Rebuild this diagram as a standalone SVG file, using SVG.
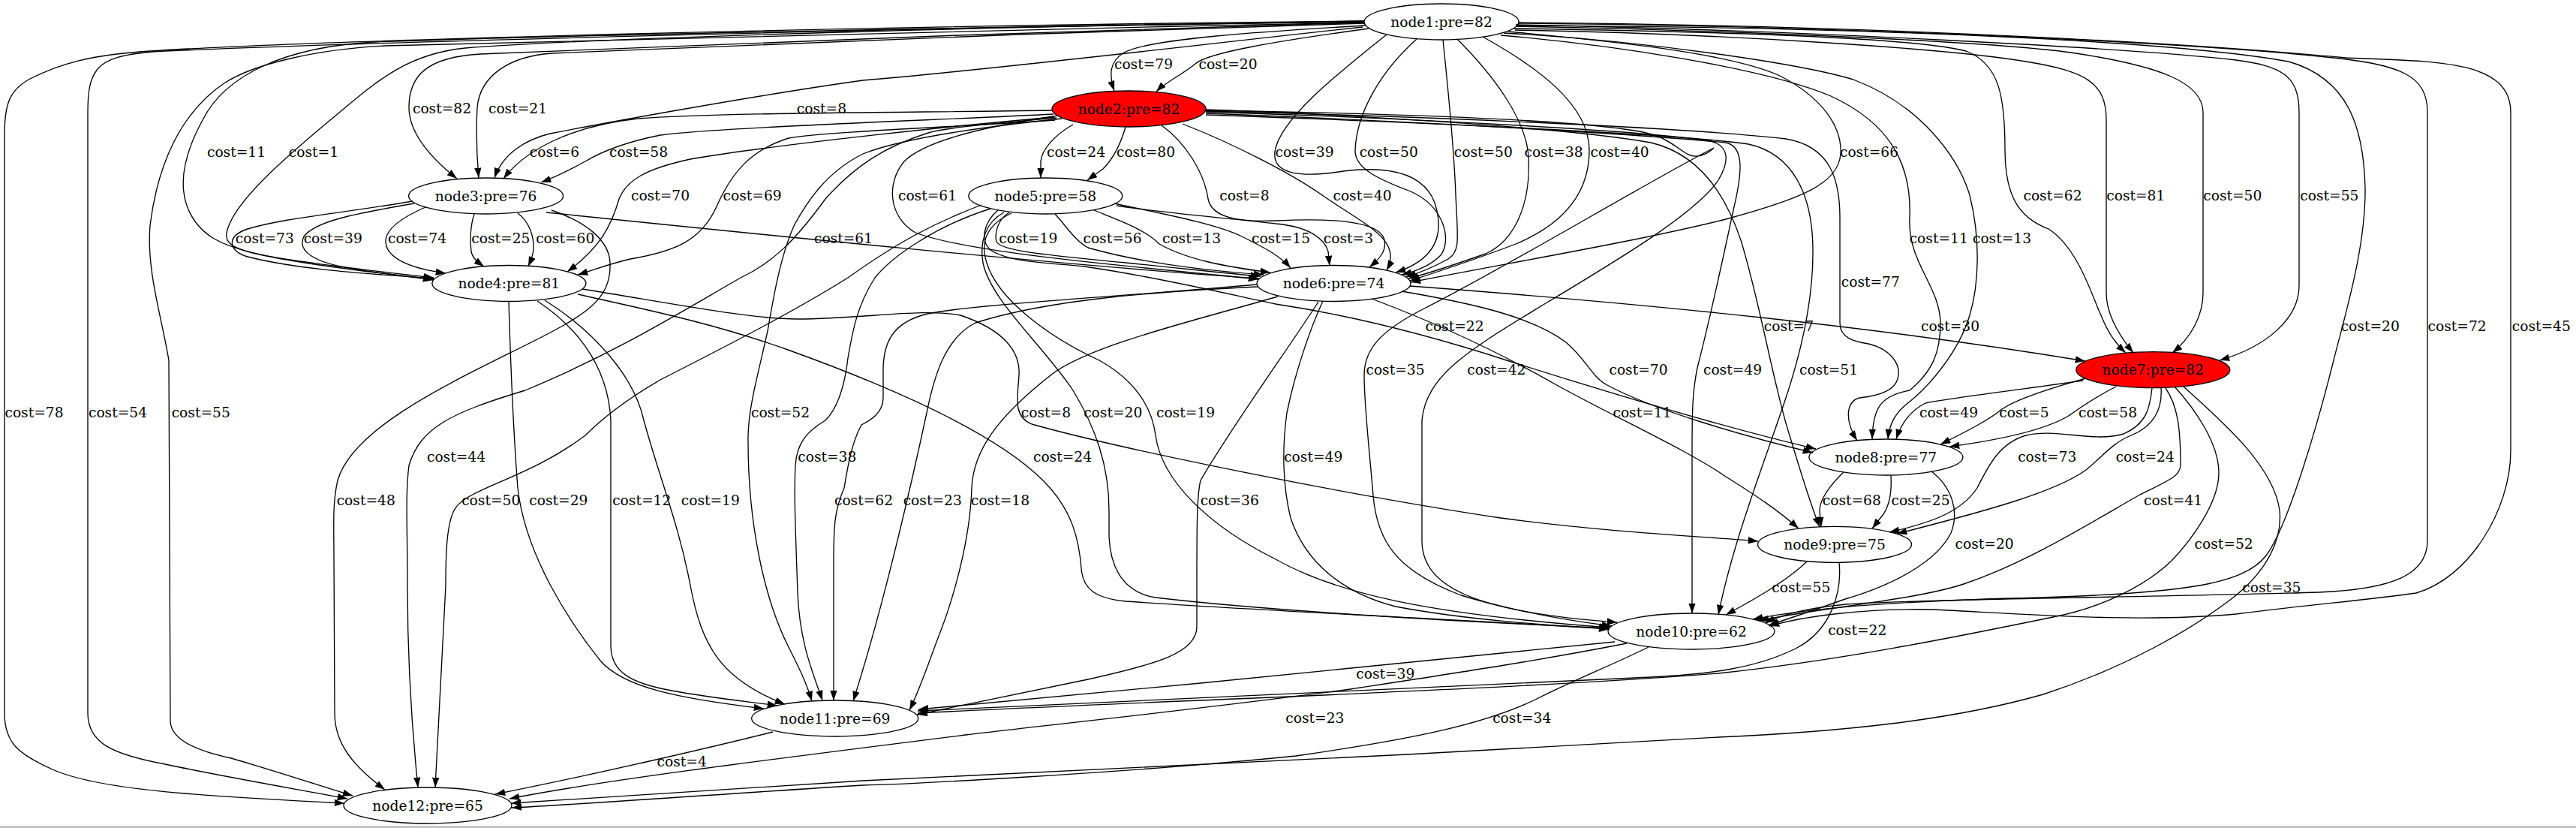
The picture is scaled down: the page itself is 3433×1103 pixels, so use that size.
<svg xmlns="http://www.w3.org/2000/svg" width="3433" height="1103" viewBox="0 0 3433 1103">
<defs>
<marker id="ah" markerUnits="userSpaceOnUse" markerWidth="14" markerHeight="9.4" viewBox="0 0 14 9.4" refX="13.3" refY="4.7" orient="auto"><path d="M0,0 L13.3,4.7 L0,9.4 z" fill="#000"/></marker>
<style>
text{font-family:"DejaVu Serif",serif;font-size:18.67px;text-anchor:middle;fill:#000}
.n ellipse{fill:none;stroke:#000;stroke-width:1.33}
.n.red ellipse{fill:#ff0000}
#edges path{fill:none;stroke:#000;stroke-width:1.33;marker-end:url(#ah)}
</style>
</defs>
<rect x="0" y="0" width="3433" height="1103" fill="#fff"/>
<rect x="0" y="1100" width="3433" height="3" fill="#c4c4c4"/>
<g id="edges">
<path id="e1-2-79" d="M1820,34 C1680,42 1530,52 1498,70 C1478,82 1478,100 1485,121"/>
<path id="e1-2-20" d="M1824,38 C1700,55 1610,70 1593,85 C1575,100 1555,108 1541,122"/>
<path id="e1-3-82" d="M1818,30 C1500,38 900,60 640,72 C570,76 545,100 545,143 C545,180 580,215 609,238"/>
<path id="e1-3-21" d="M1819,31 C1500,40 900,62 735,71 C680,75 640,100 636,143 C634,180 636,215 638,237"/>
<path id="e1-3-8" d="M1816,36 C1550,65 1300,95 1150,107 C1000,128 800,165 733,178 C700,186 670,205 659,237"/>
<path id="e1-4-11" d="M1818,28 C1400,35 800,45 500,56 C380,62 300,100 270,160 C240,215 235,260 260,295 C285,330 330,345 579,372"/>
<path id="e1-4-1" d="M1818,29 C1400,33 800,50 620,64 C540,72 500,110 440,160 C380,210 310,270 302,310 C298,335 330,342 578,370"/>
<path id="e1-12-78" d="M1818,28 C1100,35 400,55 200,68 C120,73 80,85 40,105 C12,120 6,140 6,180 L6,950 C6,990 25,1005 70,1025 C130,1052 260,1060 459,1070"/>
<path id="e1-12-54" d="M1818,29 C1100,38 400,60 220,68 C160,71 140,80 130,92 C120,105 117,120 117,150 L117,950 C117,990 150,1005 220,1018 C300,1035 400,1052 463,1064"/>
<path id="e1-12-55" d="M1819,30 C1300,40 700,55 513,61 C420,66 340,85 300,110 C240,150 210,220 200,300 C195,360 215,420 225,480 L227,960 C227,985 260,1000 308,1010 C370,1028 430,1048 470,1060"/>
<path id="e1-6-39" d="M1848,46 C1780,100 1705,160 1699,202 C1695,235 1740,236 1790,228 C1840,222 1895,225 1912,270 C1925,310 1915,345 1860,363"/>
<path id="e1-6-50a" d="M1888,52 C1840,95 1808,150 1806,200 C1805,225 1840,240 1880,255 C1925,275 1935,320 1920,340 C1905,355 1885,362 1868,366"/>
<path id="e1-6-50b" d="M1923,53 C1930,120 1938,200 1940,260 C1943,320 1946,335 1930,345 C1910,356 1890,364 1874,369"/>
<path id="e1-6-38" d="M1942,52 C1990,100 2035,160 2037,210 C2040,270 2020,320 1980,338 C1940,352 1905,364 1877,371"/>
<path id="e1-6-40" d="M1976,49 C2050,90 2118,140 2118,200 C2118,260 2080,300 2020,325 C1960,348 1910,364 1879,374"/>
<path id="e1-6-66" d="M2010,42 C2150,55 2300,70 2370,100 C2430,130 2455,170 2453,205 C2450,245 2400,265 2300,292 C2180,322 2000,352 1880,376"/>
<path id="e1-7-62" d="M2017,38 C2300,42 2550,50 2620,68 C2665,85 2672,130 2672,200 C2672,260 2690,290 2730,305 C2770,330 2790,400 2800,420 C2810,445 2820,458 2833,470"/>
<path id="e1-7-81" d="M2019,40 C2300,45 2600,65 2700,82 C2780,95 2807,110 2807,160 L2807,390 C2807,420 2825,448 2843,470"/>
<path id="e1-7-50" d="M2020,35 C2300,40 2650,55 2760,70 C2880,88 2936,110 2936,150 L2936,390 C2936,420 2920,450 2895,470"/>
<path id="e1-7-55" d="M2020,33 C2400,40 2850,65 2980,80 C3040,88 3064,100 3064,150 L3064,380 C3064,425 3020,462 2958,480"/>
<path id="e1-8-11" d="M2000,47 C2150,60 2350,90 2440,128 C2520,165 2548,220 2545,290 C2542,350 2585,380 2586,430 C2586,470 2575,495 2545,520 C2505,527 2496,545 2495,585"/>
<path id="e1-8-13" d="M2004,44 C2200,55 2400,85 2470,106 C2560,140 2610,210 2625,260 C2640,320 2637,380 2625,420 C2610,470 2570,515 2545,535 C2525,550 2518,565 2516,585"/>
<path id="e1-10-20" d="M2022,34 C2500,36 2900,55 3050,82 C3130,105 3150,170 3152,250 C3153,330 3125,420 3110,480 C3090,560 3050,700 3020,740 C2990,780 2900,790 2720,796 C2550,800 2420,808 2336,825"/>
<path id="e1-10-72" d="M2023,31 C2500,35 2950,60 3100,76 C3200,86 3235,100 3235,150 L3235,720 C3235,765 3190,785 3090,789 C2900,795 2550,798 2460,805 C2410,810 2375,818 2353,830"/>
<path id="e1-10-45" d="M2024,30 C2600,35 3000,65 3126,77 C3250,82 3346,80 3346,150 L3346,600 C3346,680 3290,770 3220,790 C3150,800 3080,805 2980,818 C2850,830 2700,818 2576,812 C2480,810 2400,822 2358,834"/>
<path id="e2-3-6" d="M1403,147 C1200,150 950,150 850,158 C760,168 700,200 671,238"/>
<path id="e2-3-58" d="M1404,152 C1250,160 950,170 880,180 C830,190 800,203 780,215 C760,226 740,236 721,243"/>
<path id="e2-4-70" d="M1405,156 C1300,165 1050,190 920,212 C860,225 835,240 825,265 C815,300 800,330 756,362"/>
<path id="e2-4-69" d="M1406,160 C1300,168 1100,175 1051,184 C1000,200 975,230 955,275 C935,320 900,335 840,345 C810,352 790,360 770,366"/>
<path id="e2-5-24" d="M1430,166 C1405,180 1388,200 1387,215 L1387,237"/>
<path id="e2-5-80" d="M1500,169 C1494,190 1485,210 1470,225 L1449,240"/>
<path id="e2-6-61" d="M1410,154 C1300,170 1230,190 1205,215 C1180,245 1185,290 1220,310 C1300,340 1550,358 1677,372"/>
<path id="e2-6-8" d="M1548,167 C1580,190 1605,230 1610,265 C1615,290 1650,296 1700,294 C1780,290 1840,295 1845,320 C1848,335 1838,345 1825,356"/>
<path id="e2-6-40" d="M1576,165 C1640,190 1720,230 1765,262 C1820,300 1870,320 1848,360"/>
<path id="e2-8-77" d="M1607,148 C1900,155 2250,170 2380,185 C2440,195 2452,240 2452,290 L2452,430 C2452,450 2470,455 2490,458 C2520,465 2532,485 2530,500 C2528,520 2505,527 2478,530 C2460,535 2458,560 2475,587"/>
<path id="e2-9-7" d="M1607,146 C1850,155 2100,172 2200,190 C2265,205 2300,260 2320,320 C2345,400 2365,520 2385,580 C2400,630 2412,670 2425,702"/>
<path id="e2-10-35" d="M1607,147 C1900,152 2150,162 2205,180 C2235,190 2245,210 2262,208 C2272,207 2280,201 2284,197 C2200,240 2000,360 1900,410 C1840,440 1818,465 1818,500 C1818,540 1825,600 1830,660 C1835,720 1860,760 1947,793 C2020,815 2100,828 2148,834"/>
<path id="e2-10-42" d="M1607,149 C1900,158 2200,175 2280,188 C2305,195 2305,215 2290,240 C2260,285 2150,350 2050,410 C1960,465 1900,500 1895,560 L1895,720 C1895,780 1960,815 2155,829"/>
<path id="e2-10-49" d="M1607,151 C1900,162 2200,180 2300,190 C2325,195 2322,230 2310,280 C2295,350 2275,440 2262,490 C2256,520 2255,540 2255,600 L2255,817"/>
<path id="e2-10-51" d="M1607,153 C1950,165 2250,180 2330,192 C2390,205 2415,260 2416,330 C2417,400 2400,470 2380,530 C2350,620 2310,720 2290,819"/>
<path id="e2-11-52" d="M1415,158 C1300,170 1200,185 1150,205 C1100,230 1075,270 1059,299 C1040,340 1030,400 1023,441 C1010,500 998,540 997,580 C996,700 1020,800 1050,860 C1065,890 1075,910 1082,934"/>
<path id="e2-12-44" d="M1408,157 C1320,165 1260,170 1237,177 C1180,195 1140,220 1100,265 C1060,320 1030,350 987,370 C900,420 820,470 700,520 C600,550 560,570 545,620 C540,660 543,700 543,780 C543,900 552,1000 557,1049"/>
<path id="e3-4-73" d="M550,268 C450,285 380,290 330,305 C300,315 305,335 330,342 C400,360 500,365 578,371"/>
<path id="e3-4-39" d="M552,271 C470,285 420,295 405,315 C395,335 420,350 470,358 C510,365 545,368 577,373"/>
<path id="e3-4-74" d="M567,276 C535,290 515,305 514,320 C513,345 550,358 594,364"/>
<path id="e3-4-25" d="M632,285 C627,300 626,320 628,335 C630,345 638,350 645,355"/>
<path id="e3-4-60" d="M690,284 C705,295 712,315 711,332 C710,342 707,348 704,355"/>
<path id="e3-6-61" d="M728,283 C1000,311 1400,352 1678,371"/>
<path id="e3-12-48" d="M735,280 C780,295 812,320 813,350 C815,400 780,420 700,460 C600,510 470,570 450,640 C443,670 445,700 445,740 L446,950 C446,990 470,1020 513,1052"/>
<path id="e4-9-8" d="M776,385 C900,405 1000,425 1063,425 C1150,425 1230,410 1280,420 C1340,440 1360,470 1358,500 C1356,530 1350,555 1375,565 C1500,600 1800,660 2000,690 C2150,710 2280,715 2343,721"/>
<path id="e4-10-24" d="M770,392 C850,410 950,430 1050,466 C1200,520 1330,580 1390,640 C1430,680 1438,720 1441,757 C1443,785 1460,797 1500,801 C1700,815 1950,825 2144,838"/>
<path id="e4-11-29" d="M678,401 C680,470 683,560 690,650 C700,740 760,830 800,880 C830,915 900,930 1018,944"/>
<path id="e4-11-12" d="M716,401 C760,430 810,480 814,560 L814,860 C814,895 840,910 895,920 C950,930 1000,935 1036,940"/>
<path id="e4-11-19" d="M726,400 C790,440 845,500 858,560 C880,640 905,700 920,780 C935,860 960,905 1046,938"/>
<path id="e5-6-19" d="M1345,283 C1330,292 1325,310 1328,322 C1335,335 1400,340 1500,350 C1580,358 1640,365 1680,368"/>
<path id="e5-6-56" d="M1406,285 C1420,300 1432,320 1450,330 C1520,350 1600,360 1684,366"/>
<path id="e5-6-13" d="M1458,280 C1490,293 1525,305 1545,325 C1580,345 1630,355 1693,363"/>
<path id="e5-6-15" d="M1485,271 C1550,285 1620,298 1655,315 C1685,330 1705,340 1720,357"/>
<path id="e5-6-3" d="M1488,274 C1560,285 1650,292 1700,298 C1745,302 1765,318 1770,335 L1772,354"/>
<path id="e5-8-22" d="M1330,280 C1312,295 1305,320 1320,333 C1345,350 1400,350 1445,355 C1550,370 1650,395 1700,405 C1800,420 1900,445 2008,480 C2150,525 2300,570 2420,598"/>
<path id="e5-10-20" d="M1338,283 C1315,295 1305,320 1310,350 C1320,400 1390,460 1430,520 C1460,570 1478,620 1478,680 L1478,715 C1480,760 1500,790 1540,796 C1700,815 1950,828 2145,837"/>
<path id="e5-10-19" d="M1348,284 C1318,298 1305,320 1315,350 C1330,400 1400,450 1465,480 C1510,505 1535,540 1540,580 C1548,640 1610,700 1700,745 C1780,790 1900,818 2145,836"/>
<path id="e5-11-38" d="M1320,278 C1250,300 1190,340 1166,370 C1140,410 1135,450 1130,477 C1125,520 1115,545 1100,560 C1075,575 1062,590 1060,620 C1058,660 1060,700 1063,790 C1066,860 1085,900 1096,933"/>
<path id="e5-12-50" d="M1308,273 C1250,295 1200,320 1130,370 C1050,420 950,470 880,506 C830,535 800,560 780,580 C700,640 620,650 605,680 C595,700 594,740 594,780 L580,1049"/>
<path id="e6-7-30" d="M1879,381 C2200,405 2500,435 2779,481"/>
<path id="e6-8-70" d="M1868,388 C1950,402 2040,420 2087,456 C2115,480 2120,500 2140,512 C2200,545 2320,580 2416,603"/>
<path id="e6-9-11" d="M1828,398 C1900,425 1990,465 2071,511 C2150,555 2250,600 2300,635 C2340,660 2370,680 2397,704"/>
<path id="e6-10-49" d="M1763,401 C1745,440 1725,500 1715,550 C1708,600 1710,650 1720,690 C1740,750 1790,790 1860,808 C1950,825 2050,832 2145,838"/>
<path id="e6-11-62" d="M1675,379 C1500,395 1300,405 1236,418 C1195,428 1178,450 1177,490 L1177,530 C1177,550 1160,560 1148,566 C1135,590 1130,620 1125,650 C1112,680 1111,700 1111,750 L1111,933"/>
<path id="e6-11-23" d="M1676,382 C1550,388 1400,398 1300,430 C1260,450 1245,500 1235,550 C1220,620 1180,800 1137,934"/>
<path id="e6-11-18" d="M1703,395 C1600,425 1450,460 1400,500 C1330,555 1297,600 1295,650 C1293,720 1270,800 1250,850 C1235,890 1225,920 1212,946"/>
<path id="e6-11-36" d="M1757,402 C1720,460 1640,570 1600,640 C1595,660 1595,700 1595,780 L1595,835 C1595,870 1540,885 1450,905 C1350,925 1280,940 1222,952"/>
<path id="e7-8-49" d="M2776,507 C2700,518 2600,530 2566,537 C2550,545 2535,560 2527,585"/>
<path id="e7-8-5" d="M2780,504 C2740,515 2690,530 2668,545 C2650,560 2620,575 2586,592"/>
<path id="e7-8-58" d="M2820,515 C2790,530 2770,545 2755,555 C2720,575 2650,588 2598,595"/>
<path id="e7-9-73" d="M2868,517 C2865,545 2860,565 2830,578 C2790,590 2740,570 2700,580 C2665,590 2650,620 2635,650 C2615,680 2580,695 2518,709"/>
<path id="e7-9-24" d="M2880,517 C2882,545 2870,568 2840,580 C2815,590 2800,610 2780,626 C2740,655 2650,680 2528,711"/>
<path id="e7-10-41" d="M2886,517 C2902,540 2906,570 2906,620 C2905,635 2890,640 2850,660 C2780,700 2700,750 2617,778 C2550,800 2420,810 2344,827"/>
<path id="e7-11-52" d="M2898,515 C2925,545 2957,590 2957,630 C2957,670 2920,720 2894,747 C2860,780 2800,810 2736,822 C2600,850 2450,880 2290,897 C2000,920 1500,935 1223,950"/>
<path id="e7-12-35" d="M2910,515 C2960,560 3030,620 3038,680 C3042,720 3020,760 2980,793 C2920,840 2830,890 2723,925 C2600,960 2450,975 2290,982 C1900,1005 1300,1035 1150,1040 C900,1055 750,1066 681,1070"/>
<path id="e8-9-68" d="M2457,629 C2440,645 2425,665 2425,680 L2427,702"/>
<path id="e8-9-25" d="M2520,633 C2521,650 2520,670 2510,685 L2495,704"/>
<path id="e8-10-20" d="M2574,628 C2600,648 2612,680 2600,710 C2580,750 2520,780 2459,798 C2420,812 2390,822 2357,833"/>
<path id="e9-10-55" d="M2408,748 C2380,775 2335,800 2300,819"/>
<path id="e9-11-22" d="M2451,749 C2455,790 2440,840 2393,864 C2340,890 2280,898 2200,902 C1800,920 1500,935 1223,947"/>
<path id="e10-11-39" d="M2152,855 C2000,870 1800,890 1600,910 C1450,925 1300,937 1224,945"/>
<path id="e10-12-23" d="M2168,857 C2050,880 1950,895 1800,918 C1600,945 1400,965 1287,979 C1000,1015 800,1040 679,1064"/>
<path id="e10-12-34" d="M2197,862 C2150,885 2100,905 2050,930 C1980,965 1880,985 1727,1007 C1500,1030 1200,1045 1150,1046 C1000,1055 800,1070 682,1076"/>
<path id="e11-12-4" d="M1030,975 C950,995 800,1030 660,1058"/>
</g>
<g id="edge-labels">
<text x="1524" y="92">cost=79</text>
<text x="1636.5" y="92">cost=20</text>
<text x="589" y="151">cost=82</text>
<text x="690" y="151">cost=21</text>
<text x="1095" y="151">cost=8</text>
<text x="315" y="209">cost=11</text>
<text x="418" y="209">cost=1</text>
<text x="739" y="209">cost=6</text>
<text x="851" y="209">cost=58</text>
<text x="1434" y="209">cost=24</text>
<text x="1527" y="209">cost=80</text>
<text x="1738.5" y="209">cost=39</text>
<text x="1850.7" y="209">cost=50</text>
<text x="1976.8" y="209">cost=50</text>
<text x="2070.5" y="209">cost=38</text>
<text x="2158.6" y="209">cost=40</text>
<text x="2491" y="209">cost=66</text>
<text x="880" y="267">cost=70</text>
<text x="1002.6" y="267">cost=69</text>
<text x="1236" y="267">cost=61</text>
<text x="1658.5" y="267">cost=8</text>
<text x="1815.5" y="267">cost=40</text>
<text x="2735.5" y="267">cost=62</text>
<text x="2846.3" y="267">cost=81</text>
<text x="2975.3" y="267">cost=50</text>
<text x="3104.4" y="267">cost=55</text>
<text x="352.8" y="324">cost=73</text>
<text x="443.7" y="324">cost=39</text>
<text x="556" y="324">cost=74</text>
<text x="667.4" y="324">cost=25</text>
<text x="753.2" y="324">cost=60</text>
<text x="1124" y="324">cost=61</text>
<text x="1370.3" y="324">cost=19</text>
<text x="1482.5" y="324">cost=56</text>
<text x="1588" y="324">cost=13</text>
<text x="1707" y="324">cost=15</text>
<text x="1797" y="324">cost=3</text>
<text x="2583.7" y="324">cost=11</text>
<text x="2668" y="324">cost=13</text>
<text x="2492.8" y="382">cost=77</text>
<text x="1938.5" y="441">cost=22</text>
<text x="2384" y="441">cost=7</text>
<text x="2599" y="441">cost=30</text>
<text x="3158.7" y="441">cost=20</text>
<text x="3274.6" y="441">cost=72</text>
<text x="3386.8" y="441">cost=45</text>
<text x="1859.5" y="499">cost=35</text>
<text x="1994.4" y="499">cost=42</text>
<text x="2183.5" y="499">cost=70</text>
<text x="2309" y="499">cost=49</text>
<text x="2437" y="499">cost=51</text>
<text x="45.5" y="556">cost=78</text>
<text x="157" y="556">cost=54</text>
<text x="267.7" y="556">cost=55</text>
<text x="1040" y="556">cost=52</text>
<text x="1394" y="556">cost=8</text>
<text x="1483.2" y="556">cost=20</text>
<text x="1580" y="556">cost=19</text>
<text x="2188.5" y="556">cost=11</text>
<text x="2597" y="556">cost=49</text>
<text x="2697.5" y="556">cost=5</text>
<text x="2809" y="556">cost=58</text>
<text x="608" y="615">cost=44</text>
<text x="1102.3" y="615">cost=38</text>
<text x="1416" y="615">cost=24</text>
<text x="1750.2" y="615">cost=49</text>
<text x="2728.2" y="615">cost=73</text>
<text x="2858.7" y="615">cost=24</text>
<text x="487.7" y="673">cost=48</text>
<text x="654.2" y="673">cost=50</text>
<text x="744.4" y="673">cost=29</text>
<text x="855.2" y="673">cost=12</text>
<text x="946.8" y="673">cost=19</text>
<text x="1151" y="673">cost=62</text>
<text x="1242.7" y="673">cost=23</text>
<text x="1333" y="673">cost=18</text>
<text x="1638.7" y="673">cost=36</text>
<text x="2467.8" y="673">cost=68</text>
<text x="2559.5" y="673">cost=25</text>
<text x="2896.1" y="673">cost=41</text>
<text x="2644.6" y="731">cost=20</text>
<text x="2963.6" y="731">cost=52</text>
<text x="2400.3" y="789">cost=55</text>
<text x="3027.4" y="789">cost=35</text>
<text x="2475.2" y="846">cost=22</text>
<text x="1846.3" y="904">cost=39</text>
<text x="1752.4" y="963">cost=23</text>
<text x="2028.2" y="963">cost=34</text>
<text x="908.7" y="1021">cost=4</text>
</g>
<g id="node1" class="n"><ellipse cx="1921" cy="29" rx="103" ry="24"/><text x="1921" y="35.5">node1:pre=82</text></g>
<g id="node2" class="n red"><ellipse cx="1504.5" cy="145" rx="102.5" ry="24"/><text x="1504.5" y="151.5">node2:pre=82</text></g>
<g id="node3" class="n"><ellipse cx="647.6" cy="261" rx="103" ry="24"/><text x="647.6" y="267.5">node3:pre=76</text></g>
<g id="node4" class="n"><ellipse cx="678.4" cy="377.5" rx="102.5" ry="24"/><text x="678.4" y="384">node4:pre=81</text></g>
<g id="node5" class="n"><ellipse cx="1393.3" cy="261" rx="102.5" ry="24"/><text x="1393.3" y="267.5">node5:pre=58</text></g>
<g id="node6" class="n"><ellipse cx="1777.5" cy="377.5" rx="102.5" ry="24"/><text x="1777.5" y="384">node6:pre=74</text></g>
<g id="node7" class="n red"><ellipse cx="2869.3" cy="492.7" rx="102.5" ry="24"/><text x="2869.3" y="499.2">node7:pre=82</text></g>
<g id="node8" class="n"><ellipse cx="2513.4" cy="609" rx="102.5" ry="24"/><text x="2513.4" y="615.5">node8:pre=77</text></g>
<g id="node9" class="n"><ellipse cx="2445" cy="725.3" rx="102.5" ry="24"/><text x="2445" y="731.8">node9:pre=75</text></g>
<g id="node10" class="n"><ellipse cx="2254" cy="841" rx="111" ry="24"/><text x="2254" y="847.5">node10:pre=62</text></g>
<g id="node11" class="n"><ellipse cx="1112.7" cy="957" rx="111" ry="24"/><text x="1112.7" y="963.5">node11:pre=69</text></g>
<g id="node12" class="n"><ellipse cx="570" cy="1073" rx="112" ry="24"/><text x="570" y="1079.5">node12:pre=65</text></g>
</svg>
